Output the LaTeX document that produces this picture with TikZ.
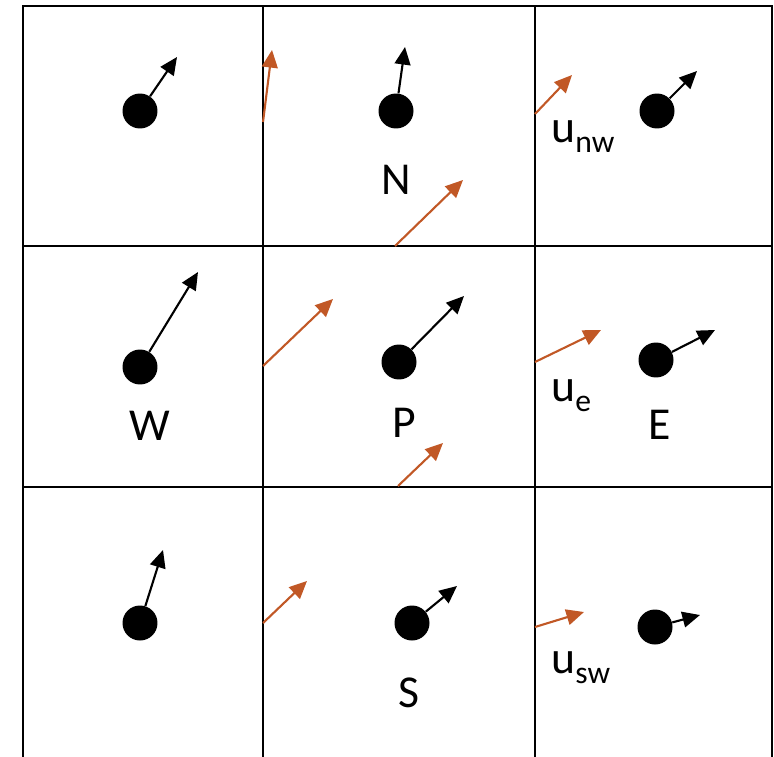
\documentclass[tikz,border=0pt]{standalone}
\usepackage{fontspec}
\setmainfont{Carlito}
\usetikzlibrary{arrows.meta}
\definecolor{flux}{RGB}{193,88,38}
\newcommand{\lowidx}[1]{\raisebox{-6pt}{\fontsize{18}{20}\selectfont #1}}

\begin{document}
\begin{tikzpicture}[x=0.02cm, y=-0.02cm,
  cell/.style={line width=1.3pt},
  pt/.style={circle, fill=black, inner sep=0pt, minimum size=0.7cm},
  vel/.style={-{Triangle[length=10pt,width=9pt]}, line width=1.2pt},
  facevel/.style={-{Triangle[length=10pt,width=9pt]}, line width=1.2pt, color=flux},
  lbl/.style={font=\fontsize{26}{30}\selectfont, inner sep=0pt},
]
\useasboundingbox (0,0) rectangle (774,757);

% grid
\draw[cell] (23,757) -- (23,6) -- (772,6) -- (772,757);
\draw[cell] (23,246) -- (772,246);
\draw[cell] (23,487) -- (772,487);
\draw[cell] (263,6) -- (263,757);
\draw[cell] (535,6) -- (535,757);

% cell centres
\node[pt] (nw) at (140,111) {};
\node[pt] (n)  at (396,111) {};
\node[pt] (ne) at (657,111) {};
\node[pt] (w)  at (140,367) {};
\node[pt] (p)  at (399,362) {};
\node[pt] (e)  at (656,360) {};
\node[pt] (sw) at (140,623) {};
\node[pt] (s)  at (412,623) {};
\node[pt] (se) at (655,627) {};

\coordinate (nwtip) at (177,57);
\coordinate (ntip)  at (405,47);
\coordinate (netip) at (697,71);
\coordinate (wtip)  at (198,272);
\coordinate (ptip)  at (464,296);
\coordinate (etip)  at (715,330);
\coordinate (swtip) at (163,550);
\coordinate (stip)  at (457,586);
\coordinate (setip) at (700,615);

\foreach \c in {nw,n,ne,w,p,e,sw,s,se}
  \draw[vel] (\c) -- (\c tip);

% face velocities
\coordinate (f1) at (263,122); \coordinate (g1) at (272,50);
\coordinate (f2) at (395,246); \coordinate (g2) at (463,180);
\coordinate (f3) at (535,114); \coordinate (g3) at (572,75);
\coordinate (f4) at (263,366); \coordinate (g4) at (333,299);
\coordinate (f5) at (398,486); \coordinate (g5) at (443,443);
\coordinate (f6) at (535,362); \coordinate (g6) at (601,330);
\coordinate (f7) at (263,623); \coordinate (g7) at (307,581);
\coordinate (f8) at (535,627); \coordinate (g8) at (584,612);

\foreach \i in {1,...,8}
  \draw[facevel] (f\i) -- (g\i);

% labels
\node[lbl] (lN) at (396,180) {N};
\node[lbl] (lW) at (150,426) {W};
\node[lbl] (lP) at (404,423) {P};
\node[lbl] (lE) at (660,425) {E};
\node[lbl] (lS) at (409,693) {S};
\node[lbl, anchor=base west] (unw) at (551,142) {u\lowidx{nw}};
\node[lbl, anchor=base west] (ue)  at (551,401) {u\lowidx{e}};
\node[lbl, anchor=base west] (usw) at (551,673) {u\lowidx{sw}};
\end{tikzpicture}
\end{document}
